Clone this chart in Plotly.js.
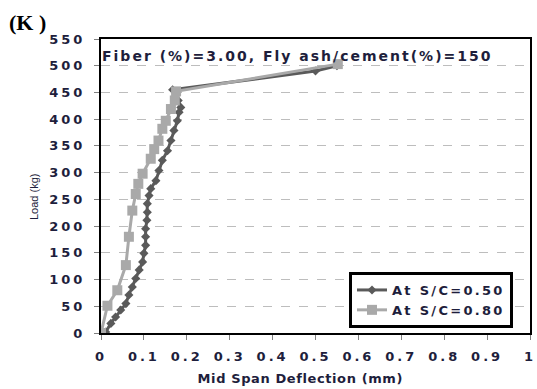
<!DOCTYPE html>
<html>
<head>
<meta charset="utf-8">
<script src="https://cdn.plot.ly/plotly-3.0.1.min.js"></script>
<style>
  html, body { margin: 0; padding: 0; background: #fff; }
  #chart { width: 537px; height: 389px; }
  .xtick text, .ytick text { letter-spacing: 3px; }
  .legendtext { letter-spacing: 2.3px; }
  .annotation-text.wide { letter-spacing: 2px; }
  .annotation-text.wide2 { letter-spacing: 0.6px; }
</style>
</head>
<body>
<div id="chart"></div>
<script>
// Series: At S/C = 0.50 (dark grey, diamonds)
const defl050 = [0, 0.011, 0.023, 0.034, 0.046, 0.058, 0.065, 0.073, 0.081, 0.089, 0.097, 0.100, 0.104, 0.104, 0.104, 0.107, 0.108, 0.108, 0.112, 0.116, 0.128, 0.135, 0.143, 0.155, 0.163, 0.170, 0.178, 0.182, 0.186, 0.180, 0.167, 0.500, 0.550];
const load050 = [0, 2, 18, 30, 43, 55, 71, 86, 102, 118, 133, 149, 164, 180, 195, 211, 226, 242, 257, 270, 285, 304, 323, 341, 360, 379, 397, 413, 422, 435, 455, 490, 500];

// Series: At S/C = 0.80 (light grey, squares)
const defl080 = [0, 0.015, 0.038, 0.058, 0.065, 0.073, 0.081, 0.087, 0.097, 0.116, 0.124, 0.134, 0.143, 0.151, 0.163, 0.172, 0.175, 0.552];
const load080 = [0, 51, 80, 127, 180, 229, 260, 279, 298, 326, 344, 360, 382, 397, 419, 435, 452, 503];

const seriesNames = ["At S/C=0.50", "At S/C=0.80"];
const xTickVals = [0, 0.1, 0.2, 0.3, 0.4, 0.5, 0.6, 0.7, 0.8, 0.9, 1];
const xTickText = ["0", "0.1", "0.2", "0.3", "0.4", "0.5", "0.6", "0.7", "0.8", "0.9", "1"];
const yTickVals = [0, 50, 100, 150, 200, 250, 300, 350, 400, 450, 500, 550];

const panelLabel = "(K )";
const infoText = "Fiber (%)=3.00, Fly ash/cement(%)=150";
const xTitle = "Mid Span Deflection (mm)";
const yTitle = "Load (kg)";

const textColor = "#1e1e3c";
const tickFont = { family: "DejaVu Sans", size: 13, color: textColor, weight: "bold" };

const traces = [
  {
    x: defl050, y: load050, name: seriesNames[0], type: "scatter", mode: "lines+markers",
    line: { color: "#5a5a5a", width: 3 },
    marker: { symbol: "diamond", size: 7, color: "#5a5a5a" }
  },
  {
    x: defl080, y: load080, name: seriesNames[1], type: "scatter", mode: "lines+markers",
    line: { color: "#a9a9a9", width: 3 },
    marker: { symbol: "square", size: 10, color: "#a9a9a9" }
  }
];

const L = 101, R = 7, T = 39, B = 56;
const W = 537, H = 389;
const pw = W - L - R, ph = H - T - B;
const px = (p) => (p - L) / pw;
const py = (p) => (H - B - p) / ph;

const layout = {
  width: W, height: H,
  margin: { l: L, r: R, t: T, b: B, pad: 0 },
  paper_bgcolor: "#ffffff",
  plot_bgcolor: "#ffffff",
  showlegend: true,
  xaxis: {
    range: [0, 1],
    tickvals: xTickVals, ticktext: xTickText,
    ticks: "outside", ticklen: 5, tickwidth: 1, tickcolor: "#808080",
    showgrid: false, zeroline: false,
    showline: true, mirror: true, linecolor: "#000000", linewidth: 2,
    tickfont: tickFont,
    ticklabelstandoff: 5
  },
  yaxis: {
    range: [0, 550],
    tickvals: yTickVals,
    ticks: "outside", ticklen: 5, tickwidth: 1, tickcolor: "#808080",
    showgrid: true, gridcolor: "#bdbdbd", gridwidth: 1, griddash: "dash",
    zeroline: false,
    showline: true, mirror: true, linecolor: "#000000", linewidth: 2,
    tickfont: tickFont,
    ticklabelstandoff: 6
  },
  legend: {
    x: px(513), xanchor: "right",
    y: py(328), yanchor: "bottom",
    bgcolor: "#ffffff",
    bordercolor: "#000000", borderwidth: 3,
    font: { family: "DejaVu Sans", size: 13, color: textColor, weight: "bold" },
    tracegroupgap: 0,
    itemsizing: "trace"
  },
  annotations: [
    {
      text: "<b>" + infoText + "</b>", xref: "paper", yref: "paper",
      x: px(297), y: py(56), xanchor: "center", yanchor: "middle",
      showarrow: false,
      font: { family: "DejaVu Sans", size: 14, color: textColor }
    },
    {
      text: "<b>" + panelLabel + "</b>", xref: "paper", yref: "paper",
      x: px(7), y: py(22), xanchor: "left", yanchor: "middle",
      showarrow: false,
      font: { family: "Liberation Serif", size: 22, color: "#000000" }
    },
    {
      text: yTitle, xref: "paper", yref: "paper",
      x: px(34), y: py(197), xanchor: "center", yanchor: "middle",
      textangle: -90, showarrow: false,
      font: { family: "Liberation Sans", size: 11, color: textColor }
    },
    {
      text: "<b>" + xTitle + "</b>", xref: "paper", yref: "paper",
      x: px(300), y: py(378), xanchor: "center", yanchor: "middle",
      showarrow: false,
      font: { family: "DejaVu Sans", size: 13, color: textColor }
    }
  ]
};

Plotly.newPlot("chart", traces, layout, { displayModeBar: false, staticPlot: true }).then(() => {
  const anns = document.querySelectorAll(".annotation-text");
  if (anns.length > 0) anns[0].classList.add("wide");
  if (anns.length > 3) anns[3].classList.add("wide2");
});
</script>
</body>
</html>
